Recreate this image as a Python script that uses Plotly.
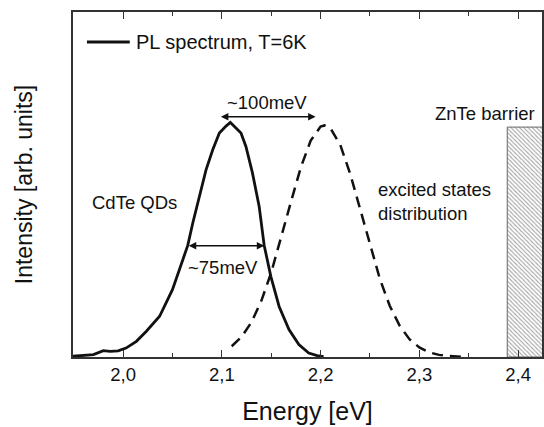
import plotly.graph_objects as go

# ---- data ----
pl_energy = [1.949, 1.960, 1.970, 1.980, 1.987, 1.995, 2.003, 2.0135, 2.0236, 2.037, 2.050,
             2.0605, 2.0655, 2.0706, 2.077, 2.084, 2.0908, 2.0975, 2.104, 2.1086, 2.1143,
             2.1194, 2.1244, 2.131, 2.1378, 2.1429, 2.1496, 2.158, 2.168, 2.178, 2.188,
             2.1965, 2.203]
pl_intensity = [0.003, 0.005, 0.010, 0.027, 0.024, 0.026, 0.038, 0.067, 0.110, 0.174, 0.288,
                0.416, 0.477, 0.573, 0.687, 0.800, 0.886, 0.958, 0.986, 1.003, 0.979,
                0.958, 0.900, 0.787, 0.644, 0.477, 0.345, 0.216, 0.117, 0.053, 0.017,
                0.006, 0.002]

exc_energy = [2.110, 2.120, 2.130, 2.140, 2.150, 2.160, 2.170, 2.180, 2.190, 2.200, 2.204,
              2.210, 2.220, 2.230, 2.240, 2.250, 2.260, 2.270, 2.280, 2.290, 2.300,
              2.310, 2.320, 2.330, 2.340, 2.345]
exc_intensity = [0.046, 0.086, 0.149, 0.240, 0.361, 0.507, 0.663, 0.811, 0.925, 0.985, 0.990,
                 0.978, 0.906, 0.783, 0.632, 0.476, 0.334, 0.219, 0.134, 0.076, 0.041,
                 0.020, 0.009, 0.004, 0.002, 0.001]

barrier_x = [2.389, 2.389, 2.46, 2.46, 2.389]
barrier_y = [0.0, 0.983, 0.983, 0.0, 0.0]

x_range = [1.9493, 2.4242]
y_range = [0.0, 1.475]
tick_vals = [2.0, 2.1, 2.2, 2.3, 2.4]
tick_text = ["2,0", "2,1", "2,2", "2,3", "2,4"]
legend_label = "PL spectrum, T=6K"

FONT = "Liberation Sans, Arial, Helvetica, sans-serif"
INK = "#111111"

fig = go.Figure()

fig.add_trace(go.Scatter(
    x=barrier_x, y=barrier_y, mode="lines", fill="toself",
    fillcolor="rgba(0,0,0,0)",
    fillpattern=dict(shape="\\", size=3, solidity=0.35, fgcolor="#444444", bgcolor="white"),
    line=dict(color="#666666", width=1), showlegend=False, hoverinfo="skip"))

fig.add_trace(go.Scatter(
    x=exc_energy, y=exc_intensity, mode="lines",
    line=dict(color=INK, width=2.5, dash="11px,7px"), showlegend=False))

fig.add_trace(go.Scatter(
    x=pl_energy, y=pl_intensity, mode="lines", name=legend_label,
    line=dict(color=INK, width=2.8), showlegend=False))

# legend drawn as key line + label (matches the reference's long key sample)
fig.add_shape(type="line", xref="paper", yref="paper",
              x0=(87 - 73) / 471, x1=(130 - 73) / 471, y0=(357 - 42) / 345, y1=(357 - 42) / 345,
              line=dict(color=INK, width=2.8))
fig.add_annotation(xref="paper", yref="paper", x=(134 - 73) / 471, y=(357 - 42) / 345,
                   text=legend_label, showarrow=False, xanchor="left", yanchor="middle",
                   font=dict(family=FONT, size=20, color=INK))

annots = [
    dict(x=2.146, y=1.090, text="~100meV", xanchor="center", yanchor="middle"),
    dict(x=2.1007, y=0.381, text="~75meV", xanchor="center", yanchor="middle"),
    dict(x=2.012, y=0.660, text="CdTe QDs", xanchor="center", yanchor="middle"),
    dict(x=2.256, y=0.666, text="excited states<br>distribution", xanchor="left",
         yanchor="middle", align="left"),
    dict(x=2.419, y=1.043, text="ZnTe barrier", xanchor="right", yanchor="middle"),
]
for a in annots:
    fig.add_annotation(xref="x", yref="y", showarrow=False,
                       font=dict(family=FONT, size=18.5, color=INK), **a)

# double-headed arrows
for (x0, x1, yv) in [(2.0975, 2.195, 1.027), (2.065, 2.143, 0.476)]:
    fig.add_annotation(x=x1, y=yv, ax=x0, ay=yv, xref="x", yref="y", axref="x", ayref="y",
                       showarrow=True, arrowhead=2, arrowside="end+start", arrowsize=1,
                       arrowwidth=1.5, arrowcolor=INK, text="")

fig.update_layout(
    width=544, height=427,
    margin=dict(l=73, r=0, t=12, b=70),
    paper_bgcolor="white", plot_bgcolor="white",
    separators=",.",
    font=dict(family=FONT, size=18, color=INK),
    showlegend=False,
    xaxis=dict(range=x_range, tickvals=tick_vals, ticktext=tick_text,
               ticks="inside", ticklen=7, tickwidth=1.3, tickcolor="#333333",
               minor=dict(ticks="inside", dtick=0.05, tick0=2.0, ticklen=4,
                          tickwidth=1.3, tickcolor="#333333"),
               showline=True, linecolor="#333333", linewidth=1.5, mirror="allticks",
               showgrid=False, zeroline=False,
               tickfont=dict(family=FONT, size=18.5, color=INK),
               title=dict(text="Energy [eV]", font=dict(family=FONT, size=25, color=INK),
                          standoff=19)),
    yaxis=dict(range=y_range, showticklabels=False, ticks="",
               showline=True, linecolor="#333333", linewidth=1.5, mirror=True,
               showgrid=False, zeroline=False,
               title=dict(text="Intensity [arb. units]",
                          font=dict(family=FONT, size=23, color=INK), standoff=32)),
)

fig.write_html("out.html")
